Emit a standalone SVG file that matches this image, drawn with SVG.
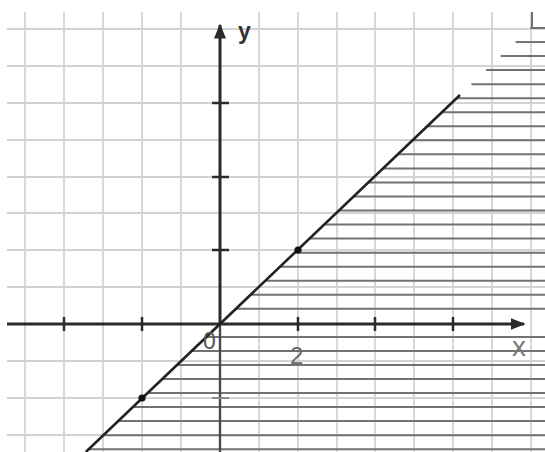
<svg xmlns="http://www.w3.org/2000/svg" width="545" height="452" viewBox="0 0 545 452">
<style>
.grid line{stroke:#d3d3d3;stroke-width:1.8}
.hatch line{stroke:#727272;stroke-width:2}
.axis{stroke:#2b2b2b;stroke-width:3;fill:none}
.tick{stroke:#2b2b2b;stroke-width:2.5}
.lbl{font-family:"Liberation Sans",Arial,sans-serif}
</style>
<defs>
<marker id="arr" viewBox="0 0 10 10" refX="9" refY="5" markerWidth="5" markerHeight="5" orient="auto" markerUnits="strokeWidth">
<path d="M0,1 L10,5 L0,9 Z" fill="#2b2b2b"/>
</marker>
</defs>
<rect width="545" height="452" fill="#ffffff"/>
<g id="grid" class="grid">
<line x1="25" y1="12" x2="25" y2="452"/><line x1="64" y1="12" x2="64" y2="452"/><line x1="103" y1="12" x2="103" y2="452"/><line x1="142" y1="12" x2="142" y2="452"/><line x1="181" y1="12" x2="181" y2="452"/><line x1="259" y1="12" x2="259" y2="452"/><line x1="298" y1="12" x2="298" y2="452"/><line x1="337" y1="12" x2="337" y2="452"/><line x1="375" y1="12" x2="375" y2="452"/><line x1="414" y1="12" x2="414" y2="452"/><line x1="453" y1="12" x2="453" y2="452"/><line x1="492" y1="12" x2="492" y2="452"/><line x1="531" y1="12" x2="531" y2="452"/>
<line x1="7" y1="29" x2="545" y2="29"/><line x1="7" y1="66" x2="545" y2="66"/><line x1="7" y1="103" x2="545" y2="103"/><line x1="7" y1="140" x2="545" y2="140"/><line x1="7" y1="177" x2="545" y2="177"/><line x1="7" y1="213" x2="545" y2="213"/><line x1="7" y1="250" x2="545" y2="250"/><line x1="7" y1="287" x2="545" y2="287"/><line x1="7" y1="361" x2="545" y2="361"/><line x1="7" y1="398" x2="545" y2="398"/><line x1="7" y1="435" x2="545" y2="435"/>
</g>
<g id="hatch" class="hatch">
<line x1="532" y1="12" x2="532" y2="28"/>
<line x1="530.3" y1="28" x2="545" y2="28"/>
<line x1="515.6" y1="42.04" x2="545" y2="42.04"/>
<line x1="500.8" y1="56.08" x2="545" y2="56.08"/>
<line x1="486.1" y1="70.12" x2="545" y2="70.12"/>
<line x1="471.4" y1="84.16" x2="545" y2="84.16"/>
<line x1="456.7" y1="98.2" x2="545" y2="98.2"/>
<line x1="442" y1="112.24" x2="545" y2="112.24"/>
<line x1="427.3" y1="126.28" x2="545" y2="126.28"/>
<line x1="412.5" y1="140.32" x2="545" y2="140.32"/>
<line x1="397.8" y1="154.36" x2="545" y2="154.36"/>
<line x1="383.1" y1="168.4" x2="545" y2="168.4"/>
<line x1="368.4" y1="182.44" x2="545" y2="182.44"/>
<line x1="353.7" y1="196.48" x2="545" y2="196.48"/>
<line x1="339" y1="210.52" x2="545" y2="210.52"/>
<line x1="324.3" y1="224.56" x2="545" y2="224.56"/>
<line x1="309.5" y1="238.6" x2="545" y2="238.6"/>
<line x1="294.8" y1="252.64" x2="545" y2="252.64"/>
<line x1="280.1" y1="266.68" x2="545" y2="266.68"/>
<line x1="265.4" y1="280.72" x2="545" y2="280.72"/>
<line x1="250.6" y1="294.76" x2="545" y2="294.76"/>
<line x1="235.9" y1="308.8" x2="545" y2="308.8"/>
<line x1="206.5" y1="336.88" x2="545" y2="336.88"/>
<line x1="191.8" y1="350.92" x2="545" y2="350.92"/>
<line x1="177.1" y1="364.96" x2="545" y2="364.96"/>
<line x1="162.3" y1="379" x2="545" y2="379"/>
<line x1="147.6" y1="393.04" x2="545" y2="393.04"/>
<line x1="132.9" y1="407.08" x2="545" y2="407.08"/>
<line x1="118.2" y1="421.12" x2="545" y2="421.12"/>
<line x1="103.5" y1="435.16" x2="545" y2="435.16"/>
<line x1="88.8" y1="449.2" x2="545" y2="449.2"/>
</g>
<g id="axes">
<line x1="220" y1="324" x2="220" y2="452" stroke="#4a4a4a" stroke-width="2.4"/>
<line class="axis" x1="7" y1="324" x2="524" y2="324" marker-end="url(#arr)"/>
<line class="axis" x1="220" y1="324" x2="220" y2="25" marker-end="url(#arr)"/>
<g id="ticks">
<line class="tick" x1="64" y1="317" x2="64" y2="331"/><line class="tick" x1="142" y1="317" x2="142" y2="331"/><line class="tick" x1="298" y1="317" x2="298" y2="331"/><line class="tick" x1="375" y1="317" x2="375" y2="331"/><line class="tick" x1="453" y1="317" x2="453" y2="331"/>
<line class="tick" x1="212" y1="103" x2="229" y2="103"/><line class="tick" x1="212" y1="177" x2="229" y2="177"/><line class="tick" x1="212" y1="250" x2="229" y2="250"/>
<line x1="212" y1="398" x2="229" y2="398" stroke="#888" stroke-width="2"/>
</g>
</g>
<g id="connectors">
<line x1="85.8" y1="452" x2="460" y2="95" stroke="#222" stroke-width="2.6"/>
</g>
<g id="point-2-2"><circle cx="298" cy="250" r="3.6" fill="#111"/></g>
<g id="point-m2-m2"><circle cx="142" cy="398" r="3.6" fill="#111"/></g>
<g id="labels" class="lbl">
<text x="238" y="39" font-size="23" font-weight="bold" fill="#333">y</text>
<text x="512" y="356" font-size="28" fill="#7a7a7a">x</text>
<text x="203" y="349" font-size="23" fill="#555">0</text>
<text x="290" y="364" font-size="24" fill="#6a6a6a">2</text>
</g>
</svg>
